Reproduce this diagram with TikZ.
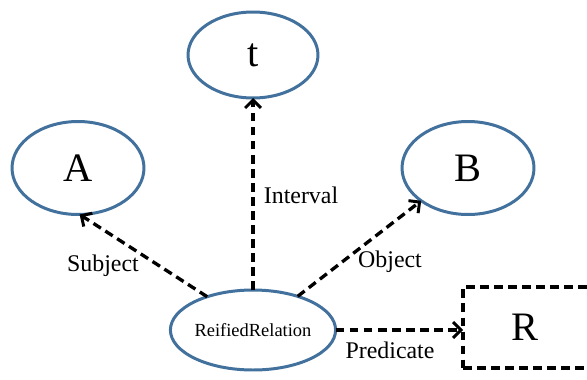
\documentclass[tikz,border=0pt]{standalone}
\usepackage{fontspec}
\newfontfamily\timesfont{Liberation Serif}
\definecolor{rim}{RGB}{65,113,156}
\usetikzlibrary{arrows.meta}
\usetikzlibrary{positioning}
\usetikzlibrary{shapes.geometric}
\tikzstyle{base}=[x=0.02cm, y=-0.02cm, inner sep=0pt, outer sep=0pt]
\tikzstyle{thing}=[ellipse, draw=rim, line width=1.7pt, fill=white, minimum width=2.64cm, minimum height=1.86cm, font=\timesfont\fontsize{23}{23}\selectfont]
\tikzstyle{link}=[dashed, dash pattern=on 5pt off 3pt, line width=1.9pt, -{Straight Barb[length=4.5pt,width=9pt,line width=1.7pt]}]
\tikzstyle{role}=[font=\timesfont\fontsize{13.6}{13.6}\selectfont]

\begin{document}
\begin{tikzpicture}[base]
    \clip (0,0) rectangle (587,379);
        \fill [white] (0,0) rectangle (587,379);
        \node [thing, minimum width=2.6cm, minimum height=1.72cm] (t) at (253,55) {t};
        \node [thing] (A) at (78,168) {A};
        \node [thing] (B) at (468,168) {B};
        \node [thing, minimum width=2.66cm, minimum height=1.6cm, font=\timesfont\fontsize{10.5}{10.5}\selectfont] (rr) at (253,330) {ReifiedRelation};
        \node [draw, dashed, dash pattern=on 5pt off 3pt, line width=1.9pt, minimum width=2.54cm, minimum height=1.62cm, font=\timesfont\fontsize{23}{23}\selectfont] (R) at (526.5,327.5) {\hspace*{-0.06cm}R};
        \draw [link] (rr.north) -- (t.south);
        \draw [link] (rr.144) -- (A.272);
        \draw [link] (rr.37) -- (B.215);
        \draw [link] (rr.east) -- (rr.east -| R.west);
        \node [role] (lint) at (301,195) {Interval};
        \node [role] (lsub) at (103,266) {Subject};
        \node [role] (lobj) at (390,262) {Object};
        \node [role] (lpre) at (390,350) {Predicate};
    \end{tikzpicture}
\end{document}
